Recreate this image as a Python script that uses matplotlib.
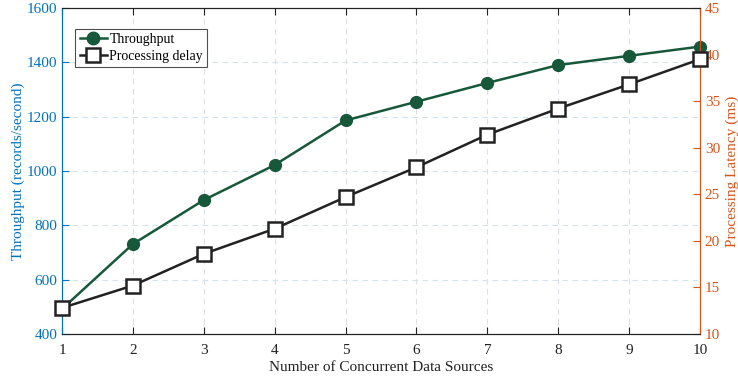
import matplotlib.pyplot as plt
from matplotlib.lines import Line2D

plt.rcParams['font.family'] = ['Liberation Serif', 'DejaVu Serif']

sources = [1, 2, 3, 4, 5, 6, 7, 8, 9, 10]
throughput = [492, 731, 893, 1022, 1186, 1255, 1324, 1390, 1424, 1458]
delay = [12.8, 15.2, 18.6, 21.3, 24.7, 27.9, 31.4, 34.2, 36.8, 39.5]

blue = '#0072BD'
orange = '#D95319'
green = '#17583A'
dark = '#222222'

fig = plt.figure(figsize=(7.38, 3.81), dpi=100)
ax = fig.add_axes([0.084, 0.1234, 0.8645, 0.8556])
ax2 = ax.twinx()

ax.plot(sources, throughput, '-o', color=green, lw=1.8, ms=8.5,
        markerfacecolor=green, markeredgecolor=green, clip_on=False, zorder=3)
ax2.plot(sources, delay, '-s', color=dark, lw=1.8, ms=10.5,
         markerfacecolor='white', markeredgecolor=dark, markeredgewidth=1.8,
         clip_on=False, zorder=3)

ax.set_xlim(1, 10)
ax.set_ylim(400, 1600)
ax2.set_ylim(10, 45)
ax.set_xticks(sources)
ax.set_yticks(range(400, 1601, 200))
ax2.set_yticks(range(10, 46, 5))

ax.grid(True, axis='x', ls=(0, (5, 4)), color='#dcdfe3', lw=0.8)
ax.grid(True, axis='y', ls=(0, (5, 4)), color='#d2e3f0', lw=0.8)
ax.set_axisbelow(True)

ax.tick_params(axis='x', direction='in', top=True, colors=dark, labelsize=11,
               length=5, pad=7)
ax.tick_params(axis='y', direction='in', colors=blue, labelsize=11, length=5)
ax2.tick_params(axis='y', direction='in', colors=orange, labelsize=11, length=5)

for a in (ax, ax2):
    a.spines['top'].set_color(dark)
    a.spines['bottom'].set_color(dark)
    a.spines['left'].set_color(blue)
    a.spines['right'].set_color(orange)

ax.set_xlabel('Number of Concurrent Data Sources', fontsize=11, color=dark,
              labelpad=3)
ax.set_ylabel('Throughput (records/second)', fontsize=11, color=blue, labelpad=1)
ax2.set_ylabel('Processing Latency (ms)', fontsize=11, color=orange, labelpad=4)

handles = [
    Line2D([], [], color=green, marker='o', lw=1.8, ms=9),
    Line2D([], [], color=dark, marker='s', lw=1.8, ms=10.5,
           markerfacecolor='white', markeredgewidth=1.8),
]
leg = ax2.legend(handles, ['Throughput', 'Processing delay'], loc='upper left',
                 bbox_to_anchor=(0.021, 0.935), fontsize=10, frameon=True,
                 fancybox=False, handlelength=2.0, handletextpad=0.15,
                 borderpad=0.3, labelspacing=0.25, borderaxespad=0)
leg.get_frame().set_edgecolor(dark)
leg.get_frame().set_linewidth(0.8)

fig.savefig('out.png', dpi=100)
